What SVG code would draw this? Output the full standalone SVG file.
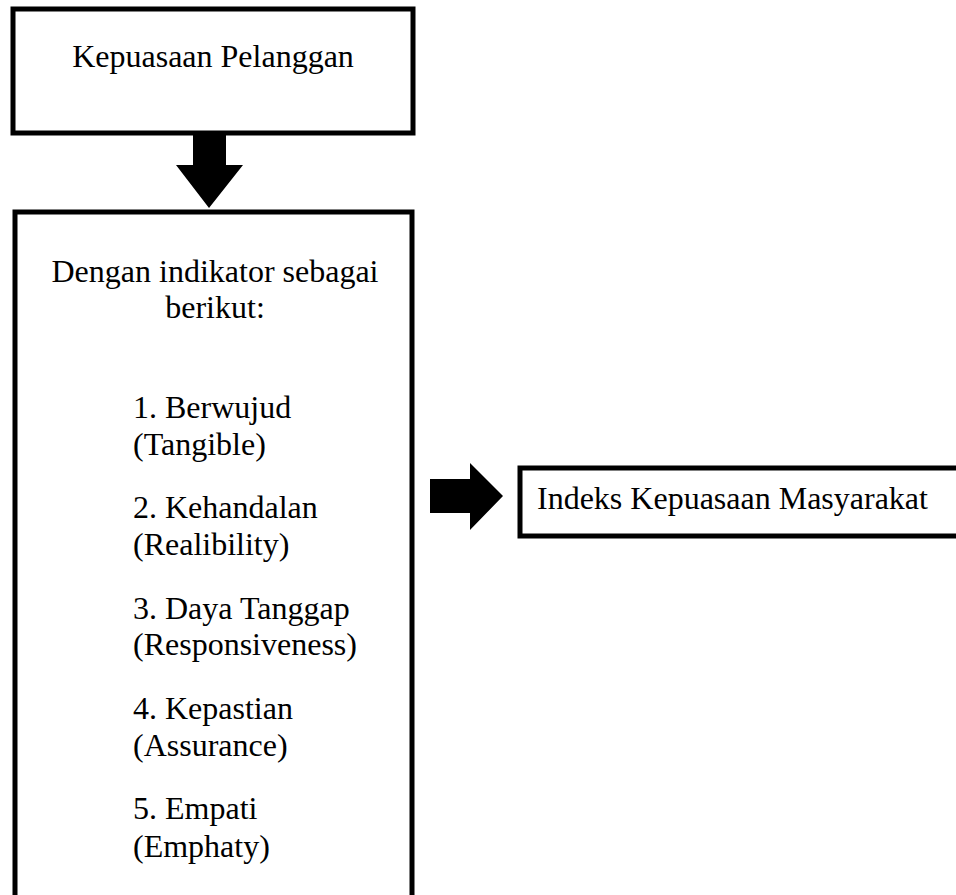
<svg xmlns="http://www.w3.org/2000/svg" width="956" height="895" viewBox="0 0 956 895">
<style>
.box{fill:#fff;stroke:#000;stroke-width:5}
.t{font-family:"Liberation Serif","Times New Roman",serif;font-size:32px;fill:#000}
.c{text-anchor:middle}
.arr{fill:#000;stroke:none}
</style>
<rect width="956" height="895" fill="#fff"/>
<g id="node-kepuasan">
<rect class="box" x="13" y="9" width="400" height="124"/>
<text class="t c" x="213" y="67">Kepuasaan Pelanggan</text>
</g>
<g id="node-indikator">
<rect class="box" x="15" y="212" width="397" height="700"/>
<text class="t c" x="215" y="282">Dengan indikator sebagai</text>
<text class="t c" x="215" y="318">berikut:</text>
<text class="t" x="133" y="418">1. Berwujud</text>
<text class="t" x="133" y="455">(Tangible)</text>
<text class="t" x="133" y="518">2. Kehandalan</text>
<text class="t" x="133" y="555">(Realibility)</text>
<text class="t" x="133" y="619">3. Daya Tanggap</text>
<text class="t" x="133" y="655">(Responsiveness)</text>
<text class="t" x="133" y="719">4. Kepastian</text>
<text class="t" x="133" y="756">(Assurance)</text>
<text class="t" x="133" y="819">5. Empati</text>
<text class="t" x="133" y="857">(Emphaty)</text>
</g>
<g id="node-ikm">
<rect class="box" x="520" y="468" width="445" height="68"/>
<text class="t" x="537" y="509">Indeks Kepuasaan Masyarakat</text>
</g>
<g id="connectors">
<polygon class="arr" points="193,135 226,135 226,165 243,165 209,208 176,165 193,165"/>
<polygon class="arr" points="430,479 470,479 470,463 503,496 470,530 470,513 430,513"/>
</g>
</svg>
